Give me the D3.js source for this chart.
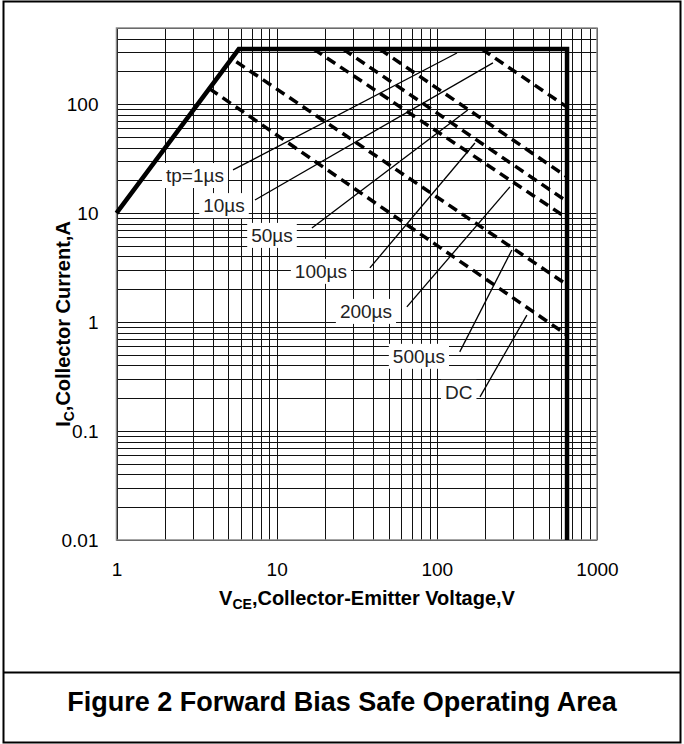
<!DOCTYPE html>
<html>
<head>
<meta charset="utf-8">
<script src="https://cdn.jsdelivr.net/npm/d3@7/dist/d3.min.js"></script>
<style>
  html, body { margin: 0; padding: 0; background: #fff; }
  svg { display: block; }
  text { font-family: Arial, "Liberation Sans", Helvetica, sans-serif; }
</style>
</head>
<body>
<svg id="chart" width="684" height="744"></svg>
<script>
// Axis ticks
const voltageTicks = [1, 10, 100, 1000];
const currentTicks = [0.01, 0.1, 1, 10, 100];

// DC / 1 µs outer limit (VCE, IC)
const envelopeV = [1, 5.8, 650, 650];
const envelopeI = [10, 320, 320, 0.01];

// Pulse-width limits: each a straight power-limit segment on the log-log plot
const pulseNames  = ["10µs", "50µs", "100µs", "200µs", "500µs", "DC"];
const pulseStartV = [191, 44, 26, 17, 5.6, 3.8];
const pulseStartI = [320, 320, 320, 320, 245, 139];
const pulseEndV   = [650, 650, 650, 650, 650, 650];
const pulseEndI   = [94, 21.5, 12.8, 9.0, 2.2, 0.76];

// Callout labels: text position, leader start and leader end (VCE, IC)
const labelText   = ["tp=1µs", "10µs", "50µs", "100µs", "200µs", "500µs", "DC"];
const labelV      = [3.09, 4.69, 9.35, 18.9, 36.1, 77.3, 137];
const labelI      = [21.9, 11.6, 6.18, 2.89, 1.24, 0.48, 0.224];
const leaderFromV = [5.34, 7.32, 16.6, 38.2, 65, 139, 186];
const leaderFromI = [24.9, 13.2, 7.31, 3.14, 1.38, 0.533, 0.206];
const leaderToV   = [133.5, 224, 156, 173, 286, 294, 365];
const leaderToI   = [295, 239, 88.5, 44, 17.4, 4.59, 1.16];

const svg = d3.select("#chart");
const W = 684, H = 744;
const FONT = "Arial, 'Liberation Sans', Helvetica, sans-serif";

// Outer frame and caption divider
svg.append("rect").attr("x", 3.5).attr("y", 1.5).attr("width", W - 7).attr("height", H - 3)
  .attr("fill", "none").attr("stroke", "#000").attr("stroke-width", 2);
svg.append("line").attr("x1", 3).attr("x2", W - 3).attr("y1", 672.5).attr("y2", 672.5)
  .attr("stroke", "#000").attr("stroke-width", 2);
svg.append("text").attr("x", 342).attr("y", 711).attr("text-anchor", "middle")
  .attr("font-size", 27).attr("font-weight", "bold").attr("fill", "#000")
  .text("Figure 2 Forward Bias Safe Operating Area");

const plot = { left: 116.5, right: 597, top: 28, bottom: 540 };
const x = d3.scaleLog().domain([1, 1000]).range([plot.left, plot.right]);
const y = d3.scaleLog().domain([0.01, 500]).range([plot.bottom, plot.top]);

// Grid values: every integer multiple inside each decade
const xGrid = [];
[1, 10, 100].forEach(d => { for (let k = 1; k <= 9; k++) xGrid.push(k * d); });
xGrid.push(1000);
const yGrid = [];
[0.01, 0.1, 1, 10, 100].forEach(d => { for (let k = 1; k <= 9; k++) { const v = k * d; if (v <= 500 + 1e-9) yGrid.push(v); } });

const g = svg.append("g");
g.selectAll(".vg").data(xGrid).join("line")
  .attr("x1", d => Math.round(x(d)) + 0.5).attr("x2", d => Math.round(x(d)) + 0.5)
  .attr("y1", plot.top).attr("y2", plot.bottom)
  .attr("stroke", "#111").attr("stroke-width", 1);
g.selectAll(".hg").data(yGrid).join("line")
  .attr("y1", d => Math.round(y(d)) + 0.5).attr("y2", d => Math.round(y(d)) + 0.5)
  .attr("x1", plot.left).attr("x2", plot.right)
  .attr("stroke", "#111").attr("stroke-width", 1);

// Plot frame
svg.append("rect").attr("x", plot.left).attr("y", plot.top)
  .attr("width", plot.right - plot.left).attr("height", plot.bottom - plot.top)
  .attr("fill", "none").attr("stroke", "#888").attr("stroke-width", 1.5);

// Tick labels
const xAxis = d3.axisBottom(x).tickValues(voltageTicks).tickFormat(d3.format("~g")).tickSize(0).tickPadding(23);
const xa = svg.append("g").attr("transform", `translate(0,${plot.bottom})`).call(xAxis);
xa.select(".domain").remove();
xa.selectAll("text").attr("font-size", 19).attr("fill", "#000").style("font-family", FONT);

const yAxis = d3.axisLeft(y).tickValues(currentTicks).tickFormat(d3.format("~g")).tickSize(0).tickPadding(18);
const ya = svg.append("g").attr("transform", `translate(${plot.left},0)`).call(yAxis);
ya.select(".domain").remove();
ya.selectAll("text").attr("font-size", 19).attr("fill", "#000").style("font-family", FONT);

// Axis titles
const xt = svg.append("text").attr("x", 367).attr("y", 605).attr("text-anchor", "middle")
  .attr("font-size", 20).attr("font-weight", "bold").attr("fill", "#000");
xt.append("tspan").text("V");
xt.append("tspan").attr("font-size", 14).attr("dy", 4).text("CE");
xt.append("tspan").attr("dy", -4).text(",Collector-Emitter Voltage,V");

const yt = svg.append("text").attr("transform", "translate(70,324) rotate(-90)")
  .attr("text-anchor", "middle").attr("font-size", 20).attr("font-weight", "bold").attr("fill", "#000");
yt.append("tspan").text("I");
yt.append("tspan").attr("font-size", 14).attr("dy", 4).text("C");
yt.append("tspan").attr("dy", -4).text(",Collector Current,A");

// Layers: label boxes over the grid, then curves, leaders, text
const boxLayer = svg.append("g");
const curveLayer = svg.append("g");
const leaderLayer = svg.append("g");
const textLayer = svg.append("g");

const labels = labelText.map((t, i) => ({
  t, v: labelV[i], c: labelI[i],
  fv: leaderFromV[i], fc: leaderFromI[i], tv: leaderToV[i], tc: leaderToI[i]
}));

const texts = textLayer.selectAll("text").data(labels).join("text")
  .attr("x", d => x(d.v)).attr("y", d => y(d.c) + 6)
  .attr("text-anchor", "middle").attr("font-size", 19).attr("fill", "#222")
  .text(d => d.t);

texts.each(function(d) {
  const b = this.getBBox();
  boxLayer.append("rect")
    .attr("x", b.x - 4).attr("y", b.y - 2)
    .attr("width", b.width + 8).attr("height", b.height + 4)
    .attr("fill", "#fff");
});

// Envelope (thick solid)
const pts = envelopeV.map((v, i) => [v, envelopeI[i]]);
const line = d3.line().x(d => x(d[0])).y(d => y(d[1]));
curveLayer.append("path").attr("d", line(pts))
  .attr("fill", "none").attr("stroke", "#000").attr("stroke-width", 4.5)
  .attr("stroke-linejoin", "miter");

// Pulse limits (thick dashed)
const pulses = pulseNames.map((n, i) => ({ n, p: [[pulseStartV[i], pulseStartI[i]], [pulseEndV[i], pulseEndI[i]]] }));
curveLayer.selectAll(".pulse").data(pulses).join("path")
  .attr("d", d => line(d.p))
  .attr("fill", "none").attr("stroke", "#000").attr("stroke-width", 3.5)
  .attr("stroke-dasharray", "10,6");

// Leader lines
leaderLayer.selectAll("line").data(labels).join("line")
  .attr("x1", d => x(d.fv)).attr("y1", d => y(d.fc))
  .attr("x2", d => x(d.tv)).attr("y2", d => y(d.tc))
  .attr("stroke", "#000").attr("stroke-width", 1.3);
</script>
</body>
</html>
